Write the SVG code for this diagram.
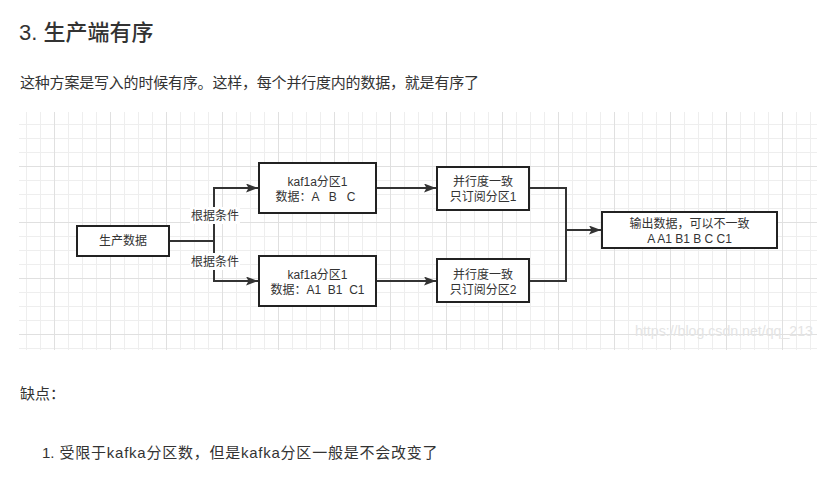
<svg xmlns="http://www.w3.org/2000/svg" width="817" height="480" viewBox="0 0 817 480">
  <style>
    .t { font-family: "Liberation Sans", "Noto Sans CJK SC", sans-serif; fill: #333; }
    .n { font-family: "Liberation Sans", "Noto Sans CJK SC", sans-serif; font-size: 12px; fill: #333; text-anchor: middle; }
    .box { fill: #fff; stroke: #222; stroke-width: 2; }
    .c { fill: none; stroke: #333; stroke-width: 2; }
    .lblbg { fill: #fff; }
  </style>
  <defs>
    <pattern id="minor" patternUnits="userSpaceOnUse" x="12" y="12" width="14" height="14">
      <rect x="0" y="0" width="1" height="14" fill="#eeeeee"/>
      <rect x="0" y="0" width="14" height="1" fill="#eeeeee"/>
    </pattern>
    <pattern id="major" patternUnits="userSpaceOnUse" x="54" y="166" width="56" height="56">
      <rect x="0" y="0" width="1" height="56" fill="#e0e0e0"/>
      <rect x="0" y="0" width="56" height="1" fill="#e0e0e0"/>
    </pattern>
    <marker id="arr" markerUnits="userSpaceOnUse" viewBox="0 0 12 9" refX="12" refY="4.5" markerWidth="12" markerHeight="9" orient="auto">
      <path d="M0 0 L12 4.5 L0 9 L2.5 4.5 z" fill="#333"/>
    </marker>
  </defs>

  <rect width="817" height="480" fill="#fff"/>

  <text class="t" x="19" y="40" font-size="22" font-weight="500" fill="#2f2f2f">3. 生产端有序</text>
  <text class="t" x="20" y="88" font-size="15" textLength="459" lengthAdjust="spacing">这种方案是写入的时候有序。这样，每个并行度内的数据，就是有序了</text>

  <g id="grid">
    <rect x="19" y="112" width="798" height="238" fill="url(#minor)"/>
    <rect x="19" y="112" width="798" height="238" fill="url(#major)"/>
    <text x="635" y="336" font-family="Liberation Sans, sans-serif" font-size="15" fill="#e4e4e4" textLength="178" lengthAdjust="spacingAndGlyphs">https://blog.csdn.net/qq_213</text>
  </g>

  <g id="connectors">
    <path class="c" d="M169 241 H214 V188 H258" marker-end="url(#arr)"/>
    <path class="c" d="M169 241 H214 V281 H258" marker-end="url(#arr)"/>
    <path class="c" d="M376 188 H436" marker-end="url(#arr)"/>
    <path class="c" d="M376 281 H436" marker-end="url(#arr)"/>
    <path class="c" d="M529 188 H566 V230 H601" marker-end="url(#arr)"/>
    <path class="c" d="M529 281 H566 V230"/>
    <g id="label-top">
      <rect class="lblbg" x="190" y="207" width="50" height="17"/>
      <text class="n" x="215" y="220">根据条件</text>
    </g>
    <g id="label-bottom">
      <rect class="lblbg" x="190" y="253" width="50" height="17"/>
      <text class="n" x="215" y="266">根据条件</text>
    </g>
  </g>

  <g id="producer">
    <rect class="box" x="77" y="226" width="92" height="30"/>
    <text class="n" x="123" y="245">生产数据</text>
  </g>
  <g id="kafka1">
    <rect class="box" x="259" y="163" width="117" height="50"/>
    <text class="n" x="317.5" y="186">kaf1a分区1</text>
    <text class="n" x="315.5" y="200.5" xml:space="preserve">数据：A   B   C</text>
  </g>
  <g id="kafka2">
    <rect class="box" x="259" y="256" width="117" height="50"/>
    <text class="n" x="317.5" y="279">kaf1a分区1</text>
    <text class="n" x="317.5" y="293.5" xml:space="preserve">数据：A1  B1  C1</text>
  </g>
  <g id="par1">
    <rect class="box" x="437" y="167" width="92" height="43"/>
    <text class="n" x="483" y="186">并行度一致</text>
    <text class="n" x="483" y="200.5">只订阅分区1</text>
  </g>
  <g id="par2">
    <rect class="box" x="437" y="259" width="92" height="43"/>
    <text class="n" x="483" y="279">并行度一致</text>
    <text class="n" x="483" y="293.5">只订阅分区2</text>
  </g>
  <g id="output">
    <rect class="box" x="602" y="212" width="175" height="36"/>
    <text class="n" x="689.5" y="228">输出数据，可以不一致</text>
    <text class="n" x="689.5" y="243">A A1 B1 B C C1</text>
  </g>

  <text class="t" x="20" y="399" font-size="15">缺点：</text>
  <text class="t" x="42" y="458" font-size="15">1.</text>
  <text class="t" x="59.5" y="458" font-size="15" textLength="378" lengthAdjust="spacing">受限于kafka分区数，但是kafka分区一般是不会改变了</text>
</svg>
